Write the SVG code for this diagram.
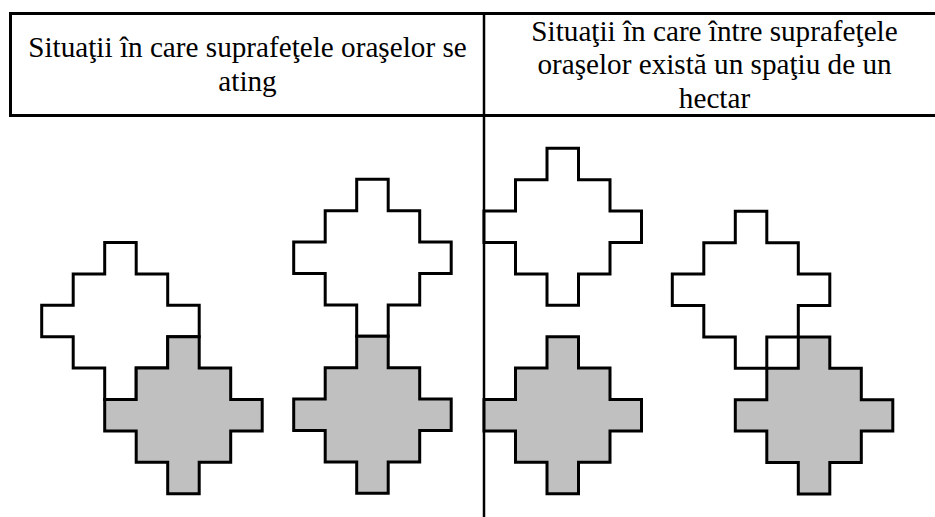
<svg xmlns="http://www.w3.org/2000/svg" xmlns:xlink="http://www.w3.org/1999/xlink" width="935" height="517" viewBox="0 0 935 517">
  <style>
    .rule { stroke: #000; stroke-width: 3; fill: none; }
    .divider { stroke: #000; stroke-width: 2.5; fill: none; }
    .head { font-family: "Liberation Serif", "Times New Roman", serif; font-size: 29.2px; fill: #000; text-anchor: middle; }
    .town { stroke: #000; stroke-width: 3; stroke-linejoin: miter; }
    .town.open { fill: #fff; }
    .town.built { fill: #c0c0c0; }
  </style>
  <defs>
    <!-- stepped diamond of 13 one-hectare squares: rows of 1, 3, 5, 3, 1 -->
    <path id="city" d="M63,0 h31.5 v31.4 h31.5 v31.4 h31.5 v31.4 h-31.5 v31.4 h-31.5 v31.4 h-31.5 v-31.4 h-31.5 v-31.4 h-31.5 v-31.4 h31.5 v-31.4 h31.5 z"/>
  </defs>
  <rect width="935" height="517" fill="#fff"/>

  <!-- table frame -->
  <g id="table">
    <line class="rule" x1="9" y1="13.5" x2="935" y2="13.5"/>
    <line class="rule" x1="9" y1="115.5" x2="935" y2="115.5"/>
    <line class="rule" x1="10.5" y1="12" x2="10.5" y2="117"/>
    <line class="divider" x1="484" y1="12" x2="484" y2="517"/>
  </g>

  <g id="header-left">
    <text class="head" x="247.5" y="57">Situaţii în care suprafeţele oraşelor se</text>
    <text class="head" x="247.5" y="90.5">ating</text>
  </g>
  <g id="header-right">
    <text class="head" x="714.5" y="40.5">Situaţii în care între suprafeţele</text>
    <text class="head" x="714.5" y="74">oraşelor există un spaţiu de un</text>
    <text class="head" x="714.5" y="107.5">hectar</text>
  </g>

  <!-- towns whose surfaces touch -->
  <g id="case-1">
    <use xlink:href="#city" class="town open" x="41.7" y="242.5"/>
    <use xlink:href="#city" class="town built" x="104.7" y="336.7"/>
  </g>
  <g id="case-2">
    <use xlink:href="#city" class="town open" x="293.7" y="179.3"/>
    <use xlink:href="#city" class="town built" x="293.7" y="336.3"/>
  </g>

  <!-- towns separated by one hectare -->
  <g id="case-3">
    <use xlink:href="#city" class="town open" x="484" y="148.3"/>
    <use xlink:href="#city" class="town built" x="484" y="336.7"/>
  </g>
  <g id="case-4">
    <use xlink:href="#city" class="town open" x="672.3" y="211.3"/>
    <use xlink:href="#city" class="town built" x="735.3" y="336.9"/>
  </g>
</svg>
